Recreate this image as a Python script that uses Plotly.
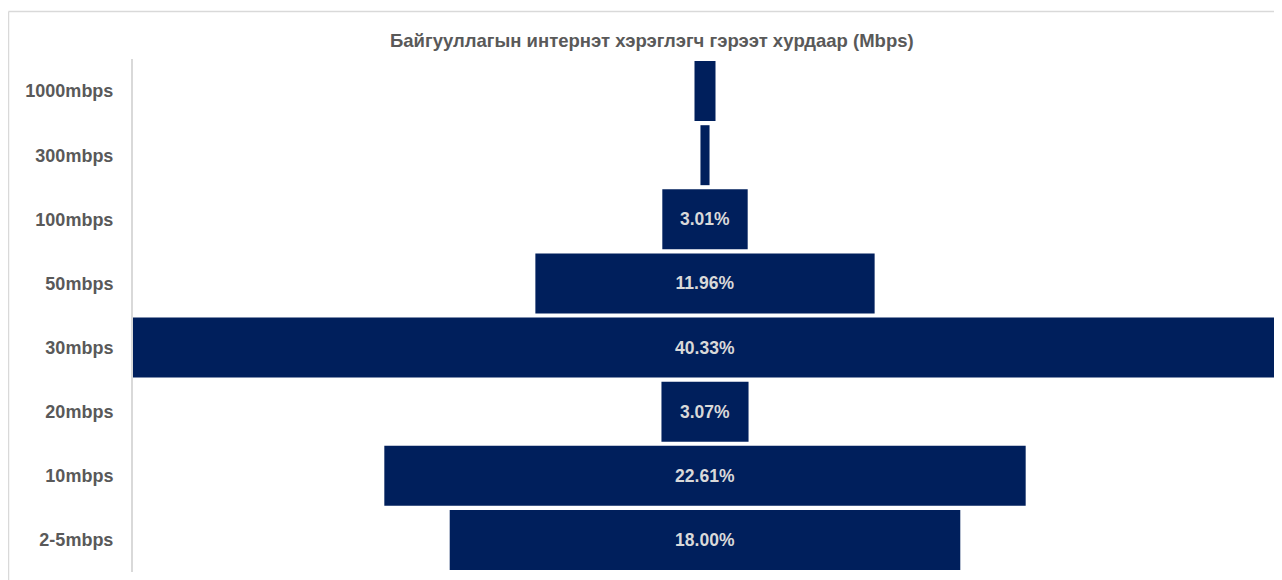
import plotly.graph_objects as go

categories = ["1000mbps", "300mbps", "100mbps", "50mbps", "30mbps", "20mbps", "10mbps", "2-5mbps"]
values = [0.74, 0.32, 3.01, 11.96, 40.33, 3.07, 22.61, 18.00]
title_text = "Байгууллагын интернэт хэрэглэгч гэрээт хурдаар (Mbps)"

# page body has an 8px margin, so the figure is offset by 8px
OFF = 8
W, H = 1282 - OFF, 580 - OFF
L, R, T, B = 133 - OFF, 5, 59 - OFF, 8
pw, ph = W - L - R, H - T - B

def px_x(p):
    return (p - OFF - L) / pw

def px_y(p):
    return 1 - (p - OFF - T) / ph

labels = [f"{v:.2f}%" if v >= 1 else "" for v in values]

FONT = "Liberation Sans, Arial"

fig = go.Figure(go.Funnel(
    y=categories,
    x=values,
    text=labels,
    textinfo="text",
    textposition="inside",
    insidetextanchor="middle",
    textfont=dict(family=FONT, size=17.5, color="#d9d9d9", weight="bold"),
    marker=dict(color="#001f5c", line=dict(width=0)),
    connector=dict(visible=False),
    hoverinfo="y+x",
))

vmax = max(values)
fig.update_layout(
    width=W, height=H,
    margin=dict(l=L, r=R, t=T, b=B),
    paper_bgcolor="white",
    plot_bgcolor="white",
    funnelgap=0.065,
    showlegend=False,
    font=dict(family=FONT, color="#595959"),
    xaxis=dict(range=[-vmax / 2, vmax / 2], visible=False, fixedrange=True),
    yaxis=dict(
        showline=True, linecolor="#d9d9d9", linewidth=2,
        showgrid=False, zeroline=False,
        tickfont=dict(family=FONT, size=18, color="#595959", weight="bold"),
        ticklabelstandoff=14,
    ),
    annotations=[dict(
        text=title_text, xref="paper", yref="paper",
        x=px_x(652), y=px_y(40), xanchor="center", yanchor="middle",
        showarrow=False,
        font=dict(family=FONT, size=18.5, color="#595959", weight="bold"),
    )],
    shapes=[
        dict(type="line", xref="paper", yref="paper", x0=px_x(8.5), x1=px_x(1300), y0=px_y(11.5), y1=px_y(11.5),
             line=dict(color="#d9d9d9", width=1.5)),
        dict(type="line", xref="paper", yref="paper", x0=px_x(8.5), x1=px_x(8.5), y0=px_y(11.5), y1=px_y(600),
             line=dict(color="#d9d9d9", width=1.5)),
    ],
)

fig.write_html("out.html")
